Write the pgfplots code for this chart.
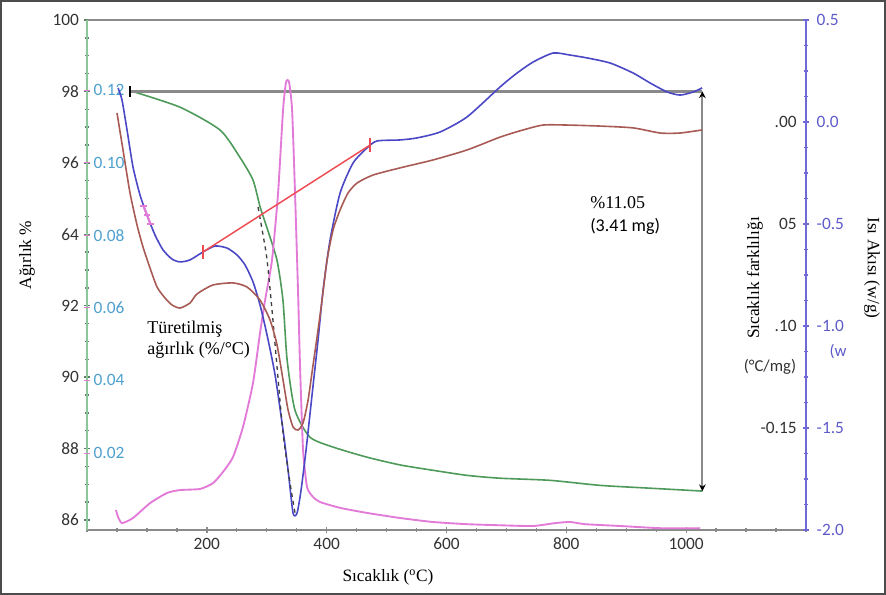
\documentclass[border=0pt]{standalone}
\usepackage{fontspec}
\setmainfont{Liberation Serif}
\setsansfont{Carlito}
\usepackage{pgfplots}
\pgfplotsset{compat=1.18}
\usetikzlibrary{arrows.meta}

\definecolor{tgaGreen}{HTML}{4E9A5A}
\definecolor{axGreen}{HTML}{8CC79A}
\definecolor{tickGreen}{HTML}{5C7F64}
\definecolor{dscBlue}{HTML}{4B48C6}
\definecolor{axBlue}{HTML}{6E69D6}
\definecolor{dtaBrown}{HTML}{A85A55}
\definecolor{dtgPink}{HTML}{E27AD8}
\definecolor{baseRed}{HTML}{EE4A52}
\definecolor{axGray}{HTML}{8A8A8A}
\definecolor{lbl}{HTML}{333333}
\definecolor{lblBlue}{HTML}{4DA0CF}
\definecolor{lblPurple}{HTML}{5E5BC9}

\pgfplotsset{
  base/.style={
    at={(65.25pt,48.75pt)}, anchor=south west,
    scale only axis, width=539.25pt, height=382.5pt,
    xmin=0, xmax=1200,
    tick align=center, major tick length=5pt, minor tick length=3.5pt,
    tick label style={font=\fontsize{13}{15}\sffamily, text=lbl},
  }
}

\begin{document}
\begin{tikzpicture}[x=0.75pt, y=0.75pt]
\path (0,0) rectangle (886,595);

% weight % (TGA)
\begin{axis}[base, ymin=85.72, ymax=100,
  axis x line*=box, axis y line*=left,
  x axis line style={draw=axGray, line width=1.8pt},
  y axis line style={draw=axGreen, line width=2.2pt},
  xtick={200,400,600,800,1000}, xticklabels={200,400,600,800,1000},
  minor xtick={0,50,...,1200}, xtick pos=left,
  x tick style={draw=axGray, line width=1pt},
  ytick={86,88,90,92,94,96,98,100}, yticklabels={86,88,90,92,64,96,98,100},
  minor y tick num=3,
  y tick style={draw=tickGreen, line width=1pt},
]
\addplot[tgaGreen, line width=1.2pt, smooth, tension=0.4] coordinates {
  (72,98.02) (155,97.56) (222,96.92) (255,96.16) (277,95.52) (289,94.76)
  (300,94.20) (317,93.28) (327,92.16) (334,90.48) (347,89.08) (372,88.32)
  (411,88.04) (467,87.76) (523,87.54) (578,87.39) (634,87.25) (689,87.17)
  (773,87.11) (856,86.97) (940,86.89) (1027,86.81)
};
\addplot[axGray, line width=2pt] coordinates {(72,98.0) (1027,98.0)};
\addplot[axGray, line width=1.5pt, {Stealth[black,length=5pt,width=5pt]}-{Stealth[black,length=5pt,width=5pt]}]
  coordinates {(1027,98.0) (1027,86.81)};
\addplot[black, only marks, mark=|, mark size=4pt, mark options={line width=1pt}]
  coordinates {(72,98.0)};
\end{axis}

% derivative weight (DTG)
\begin{axis}[base, ymin=-0.0012, ymax=0.1393,
  axis x line=none, axis y line*=left, y axis line style={draw=none},
  ytick={0.02,0.04,0.06,0.08,0.10,0.12},
  yticklabels={0.02,0.04,0.06,0.08,0.10,0.12},
  yticklabel style={anchor=west, xshift=3.5pt, text=lblBlue},
  y tick style={draw=dtgPink, line width=0.8pt}, major tick length=4pt,
]
\addplot[dtgPink, line width=1.4pt, smooth, tension=0.35] coordinates {
  (48.4,0.0043) (51.8,0.0024) (58.4,0.0007) (76.8,0.0021) (105.2,0.0062)
  (133.6,0.0090) (155.3,0.0098) (188.6,0.0101) (210.3,0.0117) (227,0.0148)
  (243.7,0.0189) (260.4,0.0272) (277.1,0.0393) (288.8,0.0531) (297.2,0.0621)
  (308.8,0.0732) (318.9,0.0916) (327.2,0.1145) (332.2,0.1222) (337.2,0.1222)
  (342.3,0.1145) (347.2,0.0916) (352.3,0.0641) (355.6,0.0437) (360.6,0.0208)
  (367.3,0.0106) (377.3,0.0079) (389,0.0065) (422.4,0.0049) (467.4,0.0035)
  (522.5,0.0021) (577.6,0.0010) (634.4,0.0004) (689.5,0.0001) (744.6,-0.0001)
  (781.3,0.0007) (806.3,0.0010) (831.4,0.0004) (890,-0.0001) (956.6,-0.0007)
  (1023.4,-0.0007)
};
\end{axis}

% heat flow (DSC)
\begin{axis}[base, ymin=-2, ymax=0.5,
  axis x line=none, axis y line*=right,
  y axis line style={draw=axBlue, line width=1.6pt},
  ytick={-2,-1.5,-1,-0.5,0,0.5}, yticklabels={-2.0,-1.5,-1.0,-0.5,0.0,0.5},
  minor y tick num=3,
  yticklabel style={text=lblPurple, xshift=2pt},
  y tick style={draw=axBlue, line width=1pt},
]
\addplot[dscBlue, line width=1.2pt, smooth, tension=0.4] coordinates {
  (51.8,0.167) (58.4,0.108) (66.8,-0.039) (76.8,-0.221) (88.5,-0.358)
  (100.2,-0.456) (113.5,-0.554) (126.9,-0.627) (141.9,-0.672) (155.3,-0.686)
  (172,-0.676) (193.7,-0.637) (213.7,-0.608) (233.7,-0.618) (250.4,-0.652)
  (263.8,-0.701) (277.1,-0.784) (288.8,-0.897) (300.5,-1.044) (313.9,-1.240)
  (327.2,-1.510) (335.6,-1.706) (343.9,-1.917) (350.6,-1.917) (357.3,-1.804)
  (365.6,-1.608) (375.6,-1.338) (385.6,-1.069) (394,-0.824) (405.7,-0.578)
  (422.4,-0.348) (444.1,-0.201) (467.4,-0.127) (484.1,-0.093) (522.5,-0.088)
  (550.9,-0.078) (589.3,-0.049) (634.4,0.025) (689.5,0.172) (717.8,0.240)
  (744.6,0.294) (778,0.338) (806.3,0.328) (834.7,0.314) (873.1,0.289)
  (911.5,0.240) (939.9,0.191) (968.3,0.147) (990,0.132) (1011.7,0.147)
  (1026.7,0.167)
};
\addplot[black!75, line width=1pt, dashed, smooth] coordinates {
  (285.5,-0.417) (293.8,-0.554) (300.5,-0.676) (308.8,-0.922) (317.2,-1.201)
  (327.2,-1.525) (338.9,-1.770) (347.2,-1.917)
};
\addplot[baseRed, line width=1.1pt, mark=|, mark size=5pt, mark options={line width=1pt}]
  coordinates {(193.7,-0.637) (472.5,-0.113)};
% pink smudge on the left flank
\addplot[dtgPink, line width=1.6pt, mark=-, mark size=2.5pt]
  coordinates {(94,-0.41) (100,-0.456) (106,-0.50)};
\end{axis}

% temperature difference (DTA)
\begin{axis}[base, ymin=-0.2, ymax=0.05,
  axis x line=none, axis y line*=right, y axis line style={draw=none},
  ytick={0,-0.05,-0.10,-0.15}, yticklabels={.00,05,.10,-0.15},
  yticklabel style={anchor=east, xshift=-3.5pt},
  major tick length=0pt,
]
\addplot[dtaBrown, line width=1.2pt, smooth, tension=0.4] coordinates {
  (50.1,0.0044) (60.1,-0.0137) (71.8,-0.0348) (83.5,-0.0505) (93.5,-0.0613)
  (105.2,-0.0716) (116.9,-0.0809) (130.2,-0.0863) (141.9,-0.0897) (155.3,-0.0912)
  (172,-0.0887) (183.6,-0.0843) (210.3,-0.0799) (243.7,-0.0789) (267.1,-0.0809)
  (288.8,-0.0873) (305.5,-0.0971) (317.2,-0.1093) (327.2,-0.1265) (335.6,-0.1412)
  (343.9,-0.1495) (352.3,-0.1510) (360.6,-0.1475) (369,-0.1363) (377.3,-0.1191)
  (385.6,-0.1020) (392.3,-0.0873) (400.7,-0.0676) (410.7,-0.0529) (422.4,-0.0431)
  (435.7,-0.0348) (450.8,-0.0299) (477.4,-0.0260) (522.5,-0.0225) (577.6,-0.0186)
  (634.4,-0.0137) (689.5,-0.0074) (727.9,-0.0039) (761.3,-0.0015) (801.3,-0.0015)
  (856.4,-0.0020) (911.5,-0.0029) (956.6,-0.0054) (990,-0.0054) (1026.7,-0.0039)
};
\end{axis}

\draw[black!70, line width=1.5pt] (1,1) rectangle (885,594);

\node[rotate=90, font=\fontsize{13}{15}\selectfont] at (27,{595-255}) {Ağırlık \%};
\node[font=\fontsize{13}{15}\selectfont] at (388,{595-577}) {Sıcaklık (\textsuperscript{o}C)};
\node[anchor=west, font=\fontsize{13.5}{16}\selectfont, align=left, inner sep=0pt]
  at (147,{595-340}) {Türetilmiş\\ağırlık (\%/°C)};
\node[anchor=west, font=\fontsize{13.5}{16}\selectfont, inner sep=0pt] at (590,{595-203}) {\%11.05};
\node[anchor=west, font=\fontsize{13.5}{16}\sffamily, inner sep=0pt] at (590,{595-226}) {(3.41 mg)};
\node[rotate=90, font=\fontsize{13}{15}\selectfont] at (755,{595-278}) {Sıcaklık farklılığı};
\node[rotate=-90, font=\fontsize{13}{15}\selectfont] at (872,{595-268}) {Isı Akısı (w/g)};
\node[font=\fontsize{12.5}{14}\sffamily, text=lbl] at (770,{595-367}) {(°C/mg)};
\node[font=\fontsize{12.5}{14}\sffamily, text=lblPurple] at (838,{595-352}) {(w};
\end{tikzpicture}
\end{document}
